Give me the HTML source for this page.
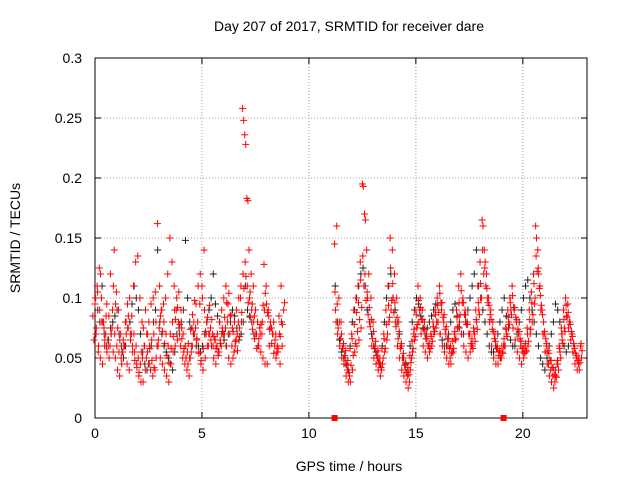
<!DOCTYPE html>
<html><head><meta charset="utf-8"><style>
body{margin:0;background:#fff;}
svg{display:block;font-family:"Liberation Sans",sans-serif;}
</style></head><body>
<svg id="chart" width="640" height="480"></svg>
<script>
const xTicks=[0,5,10,15,20];
const yTicks=[0,0.05,0.1,0.15,0.2,0.25,0.3];
const yTickLabels=["0","0.05","0.1","0.15","0.2","0.25","0.3"];
const seg1Start=0, seg2Start=11.2, stepH=0.1;
const seg1RedA=[85,95,110,125,100,80,70,65,60,75,140,105,90,70,55,60,45,40,70,110,130,135,100,80,60,50,45,40,35,40,60,75,90,95,100,120,150,130,110,90,80,60,50,45,40,35,55,70,75,80,95,110,140,70,60,75,70,65,60,55,60,70,75,80,70,60,55,65,80,100,258,236,183,140,120,110,90,80,75,70,128,110,90,80,70,60,55,85,110];
const seg1RedB=[65,70,55,50,45,60,95,85,70,55,50,40,35,45,60,80,75,70,60,55,45,35,30,30,40,55,60,65,70,80,60,50,45,40,35,30,45,55,60,65,70,75,55,50,45,50,60,70,65,55,45,40,50,60,70,60,50,45,55,65,75,70,60,50,45,50,60,70,75,80,248,228,181,105,95,85,70,60,55,50,45,45,60,75,80,70,55,45,60];
const seg1RedC=[100,105,90,80,75,85,60,120,90,70,60,55,50,65,80,95,100,85,70,60,50,45,50,60,70,80,95,100,105,162,110,90,80,70,60,70,80,90,100,105,90,70,60,55,50,60,80,95,110,120,100,90,80,70,65,60,65,70,80,90,100,110,95,85,75,80,90,100,110,120,130,110,100,90,80,70,60,70,80,90,95,85,75,70,65,60,70,80,90];
const seg1RedD=[75,60,120,80,65,55,50,70,110,95,75,65,55,60,70,85,65,55,48,42,38,55,75,90,70,58,48,42,50,65,85,72,62,52,46,58,68,82,92,78,66,58,50,62,74,86,98,66,54,48,58,72,84,94,82,68,58,52,62,72,84,96,104,86,72,64,56,68,88,108,118,96,84,74,66,58,66,78,94,104,88,74,62,54,50,58,68,78,96];
const seg1Black=[100,90,80,110,70,60,65,75,80,85,90,70,60,50,60,75,80,95,110,100,90,70,55,45,40,45,60,80,90,140,80,70,60,55,50,45,40,55,70,75,80,90,148,100,80,75,70,60,60,55,60,70,80,90,100,120,95,85,80,70,65,60,70,80,90,85,75,65,70,80,110,90,85,80,70];
const seg2RedA=[145,160,100,80,60,50,40,35,70,90,100,110,130,195,170,140,120,100,80,60,50,45,40,70,90,110,150,140,120,100,80,60,50,40,35,30,50,70,90,110,100,90,80,70,60,70,80,90,100,110,90,80,70,60,50,55,70,90,110,120,100,90,80,70,60,75,90,110,130,165,140,120,100,90,80,70,60,55,50,60,75,90,100,110,90,80,70,60,55,60,75,90,105,120,160,140,110,90,70,60,45,40,35,30,45,60,75,90,100,95,80,70,60,50,45,60];
const seg2RedB=[90,70,60,50,45,35,30,30,40,55,60,65,75,193,165,100,80,60,50,45,40,35,45,55,65,80,90,100,80,60,50,40,35,30,25,40,55,65,75,80,70,60,55,50,55,60,70,75,80,70,60,55,50,45,45,55,65,75,80,70,60,55,50,55,60,70,80,90,100,160,130,100,80,60,50,45,45,50,55,60,70,80,90,75,65,55,50,45,50,55,60,70,80,95,150,120,90,70,55,45,35,30,25,35,45,55,65,75,85,75,65,55,45,40,40,50];
const seg2RedC=[105,95,80,70,62,56,48,58,66,78,88,96,115,135,120,105,92,82,72,64,56,50,58,66,78,94,125,112,96,84,72,62,54,46,42,52,64,74,86,98,92,82,74,66,62,68,76,86,94,104,96,86,76,66,60,64,72,84,96,106,96,86,78,70,66,72,82,96,112,140,125,108,94,82,72,64,58,56,60,66,74,84,96,102,92,82,72,64,58,62,70,82,96,112,135,125,102,86,72,62,54,48,42,40,48,58,70,82,94,88,78,68,58,52,50,62];
const seg2RedD=[80,75,66,58,52,44,38,44,52,62,72,82,92,110,98,86,76,66,58,52,46,42,50,58,70,84,98,88,76,66,58,50,44,38,36,46,58,68,78,90,82,74,66,60,58,64,72,80,88,96,84,74,66,58,54,58,66,76,86,96,86,78,70,62,58,64,74,86,100,120,110,96,86,74,66,58,52,50,54,60,68,78,86,92,84,74,66,58,54,56,64,74,86,100,122,108,94,80,66,56,48,42,36,34,40,50,62,72,84,80,72,62,54,48,46,56];
const seg2Black=[110,80,65,55,50,45,40,60,80,90,100,110,120,125,110,90,80,70,60,55,50,45,60,80,100,110,120,100,90,80,70,60,50,45,40,60,80,90,100,95,85,75,70,75,80,85,90,95,80,70,65,60,60,70,80,90,95,85,75,70,70,80,90,100,110,120,140,110,100,90,80,70,60,55,55,60,70,80,90,100,85,75,65,60,60,70,80,90,100,110,115,100,90,80,70,60,50,45,40,50,60,70,80,95,90,80,70,60,55,60];
const zeroTimes=[11.2,19.1];

const L=95,R=587,T=58,B=418,xMax=23,yMax=0.3;
const X=t=>L+(R-L)*t/xMax, Y=v=>B-(B-T)*v/yMax;
const svg=document.getElementById('chart');
const NS='http://www.w3.org/2000/svg';
function mk(tag,a,p){const e=document.createElementNS(NS,tag);for(const k in a)e.setAttribute(k,a[k]);(p||svg).appendChild(e);return e;}

const grid=mk('g',{});


xTicks.forEach(t=>{if(t>0)mk('line',{x1:X(t),x2:X(t),y1:T,y2:B,stroke:'#a0a0a0','stroke-dasharray':'1,2'},grid);});
yTicks.forEach(v=>{if(v>0&&v<yMax)mk('line',{x1:L,x2:R,y1:Y(v),y2:Y(v),stroke:'#a0a0a0','stroke-dasharray':'1,2'},grid);});

const axes=mk('g',{});


mk('rect',{x:L,y:T,width:R-L,height:B-T,fill:'none',stroke:'#000'},axes);
xTicks.forEach(t=>{
 mk('line',{x1:X(t),x2:X(t),y1:B,y2:B-6,stroke:'#000'},axes);
 mk('line',{x1:X(t),x2:X(t),y1:T,y2:T+6,stroke:'#000'},axes);
 const tx=mk('text',{x:X(t),y:B+20,'text-anchor':'middle','font-size':'14'},axes);tx.textContent=t;
 
 
});
yTicks.forEach((v,i)=>{
 mk('line',{x1:L,x2:L+6,y1:Y(v),y2:Y(v),stroke:'#000'},axes);
 mk('line',{x1:R,x2:R-6,y1:Y(v),y2:Y(v),stroke:'#000'},axes);
 const tx=mk('text',{x:82,y:Y(v)+5,'text-anchor':'end','font-size':'14'},axes);tx.textContent=yTickLabels[i];
 
 
});

function plus(g,t,v,col){const x=X(t),y=Y(v);mk('path',{d:`M${x-3.5} ${y}h7M${x} ${y-3.5}v7`,stroke:col,'stroke-width':1},g);}
function series(name,arr,start,off,col){
 const g=mk('g',{});
 
 
 arr.forEach((v,i)=>plus(g,start+i*stepH+off,v/1000,col));
}
series('black-series-1',seg1Black,seg1Start,0.03,'#222');
series('black-series-2',seg2Black,seg2Start,0.03,'#222');
series('red-series-1a',seg1RedA,seg1Start,-0.1,'#f00');
series('red-series-1b',seg1RedB,seg1Start,-0.05,'#f00');
series('red-series-1c',seg1RedC,seg1Start,0.02,'#f00');
series('red-series-1d',seg1RedD,seg1Start,0.06,'#f00');
series('red-series-2a',seg2RedA,seg2Start,0,'#f00');
series('red-series-2b',seg2RedB,seg2Start,0.04,'#f00');
series('red-series-2c',seg2RedC,seg2Start,0.02,'#f00');
series('red-series-2d',seg2RedD,seg2Start,0.07,'#f00');
const zg=mk('g',{});


zeroTimes.forEach(t=>mk('rect',{x:X(t)-3,y:Y(0)-3,width:6,height:6,fill:'#f00'},zg));

const title=mk('text',{x:349,y:31,'text-anchor':'middle','font-size':'14'});
title.textContent='Day 207 of 2017, SRMTID for receiver dare';


const xl=mk('text',{x:349,y:471,'text-anchor':'middle','font-size':'14'});
xl.textContent='GPS time / hours';


const yl=mk('text',{x:20,y:238,'text-anchor':'middle','font-size':'14',transform:'rotate(-90 20 238)'});
yl.textContent='SRMTID / TECUs';


</script>
</body></html>
